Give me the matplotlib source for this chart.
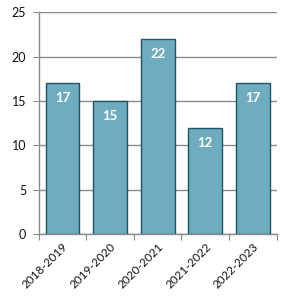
import matplotlib
matplotlib.use("Agg")
import matplotlib.pyplot as plt
import numpy as np

# data
seasons = ["2018-2019", "2019-2020", "2020-2021", "2021-2022", "2022-2023"]
counts = [17, 15, 22, 12, 17]
y_ticks = [0, 5, 10, 15, 20, 25]

bar_color = "#6eadc0"
edge_color = "#1d5566"
grid_color = "#8a8a8a"

plt.rcParams["font.family"] = ["Lato", "DejaVu Sans"]

fig = plt.figure(figsize=(3.04, 3.05), dpi=100)
ax = fig.add_axes([0.127, 0.232, 0.783, 0.728])

x = np.arange(len(seasons))
bars = ax.bar(x, counts, width=0.71, color=bar_color, edgecolor=edge_color,
              linewidth=1.0, zorder=3)

for b, v in zip(bars, counts):
    ax.text(b.get_x() + b.get_width() / 2, v - 1.7, str(v), ha="center",
            va="center", color="white", fontsize=9.5, fontweight="bold", zorder=4)

ax.set_xlim(-0.5, len(seasons) - 0.5)
ax.set_ylim(0, 25)
ax.set_yticks(y_ticks)
ax.yaxis.grid(True, color=grid_color, linewidth=1.0, zorder=0)

# category boundary ticks on x axis, labels at centres
ax.set_xticks(np.arange(-0.5, len(seasons), 1.0))
ax.set_xticklabels([])
ax.set_xticks(x, minor=True)
ax.set_xticklabels(seasons, minor=True, rotation=45, ha="right",
                   rotation_mode="anchor", fontsize=8.5, color="#111111")
ax.tick_params(axis="x", which="minor", length=0, pad=5)
ax.tick_params(axis="x", which="major", length=4, color=grid_color)
ax.tick_params(axis="y", length=4, color=grid_color, labelsize=9,
               labelcolor="#111111", pad=5)

for s in ["top", "right"]:
    ax.spines[s].set_visible(False)
for s in ["left", "bottom"]:
    ax.spines[s].set_color(grid_color)
    ax.spines[s].set_linewidth(1.0)

fig.savefig("out.png", dpi=100)
